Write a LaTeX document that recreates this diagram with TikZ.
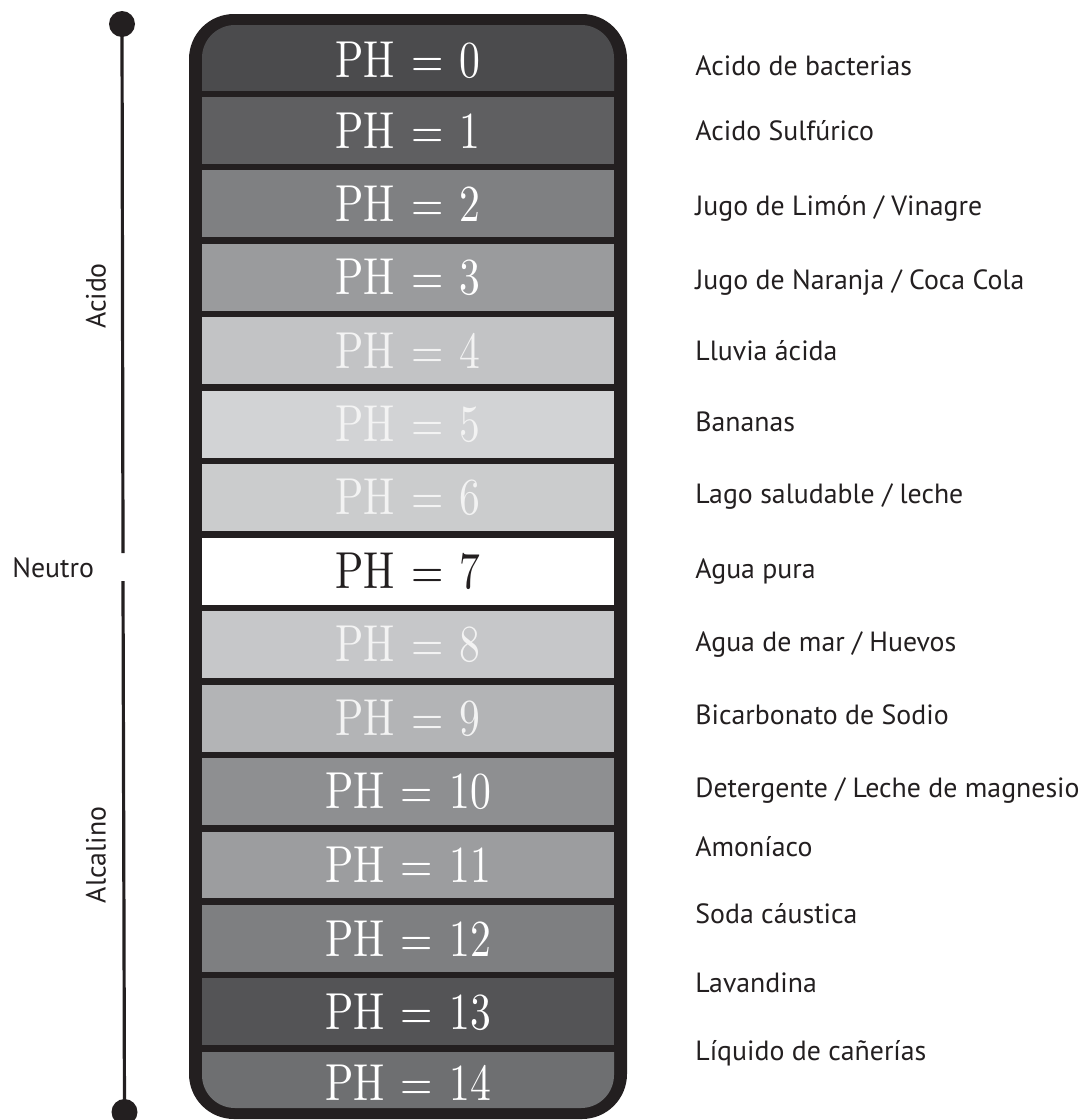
\documentclass[tikz,border=0pt]{standalone}
\usepackage{fontspec}
\usepackage{graphicx}
\newfontfamily\labelfont{PT Sans}
\newfontfamily\phfont{lmroman10-regular.otf}

\definecolor{ink}{HTML}{231F20}
\definecolor{row0}{HTML}{4B4B4D}
\definecolor{row1}{HTML}{5F5F61}
\definecolor{row2}{HTML}{7F8082}
\definecolor{row3}{HTML}{9A9B9D}
\definecolor{row4}{HTML}{C2C3C5}
\definecolor{row5}{HTML}{D2D3D5}
\definecolor{row6}{HTML}{CBCCCD}
\definecolor{row7}{HTML}{FFFFFF}
\definecolor{row8}{HTML}{C6C7C9}
\definecolor{row9}{HTML}{B3B4B6}
\definecolor{row10}{HTML}{8E8F91}
\definecolor{row11}{HTML}{9C9D9F}
\definecolor{row12}{HTML}{7E7F81}
\definecolor{row13}{HTML}{545456}
\definecolor{row14}{HTML}{6E6F71}
\definecolor{softwhite}{HTML}{F3F3F3}

% condensed serif value label inside a scale cell
\newcommand\phval[1]{\scalebox{0.8}[1]{PH\hspace{0.39em}=\hspace{0.39em}#1}}

\begin{document}
\begin{tikzpicture}[x=0.5pt,y=-0.5pt,
  phtext/.style={font=\phfont\fontsize{26}{28}\selectfont, inner sep=0pt, text=white},
  phlight/.style={phtext, text=softwhite},
  phdark/.style={phtext, text=ink},
  lab/.style={font=\labelfont\fontsize{13.9}{16}\selectfont, anchor=base west, inner sep=0pt, text=ink},
  axislab/.style={font=\labelfont\fontsize{13.9}{16}\selectfont, inner sep=0pt, text=ink},
  axis/.style={draw=ink, line width=1.6pt},
  enddot/.style={circle, fill=ink, minimum size=13pt, inner sep=0pt}]
\useasboundingbox (0,0) rectangle (1085,1120);

% outer frame of the scale
\fill[ink, rounded corners=22.5pt] (189,14) rectangle (627,1119);

% top and bottom cells with rounded outer corners
\begin{scope}
  \clip (202,25) rectangle (614,90.5);
  \fill[row0, rounded corners=16.5pt] (202,25) rectangle (614,160);
\end{scope}
\begin{scope}
  \clip (202,1052) rectangle (614,1108);
  \fill[row14, rounded corners=16.5pt] (202,990) rectangle (614,1108);
\end{scope}

% middle cells
\foreach \k in {1,...,13} {
  \pgfmathsetmacro\yb{90.5+73.45*\k}
  \pgfmathsetmacro\yt{\yb-66.95}
  \fill[row\k] (202,\yt) rectangle (614,\yb);
}

% values
\node[phtext]  (ph0)  at (408,60)     {\phval{0}};
\node[phtext]  (ph1)  at (408,130.5)  {\phval{1}};
\node[phtext]  (ph2)  at (408,203.9)  {\phval{2}};
\node[phtext]  (ph3)  at (408,277.4)  {\phval{3}};
\node[phlight] (ph4)  at (408,350.8)  {\phval{4}};
\node[phlight] (ph5)  at (408,424.3)  {\phval{5}};
\node[phlight] (ph6)  at (408,497.7)  {\phval{6}};
\node[phdark]  (ph7)  at (408,571.2)  {\phval{7}};
\node[phlight] (ph8)  at (408,644.6)  {\phval{8}};
\node[phlight] (ph9)  at (408,718.1)  {\phval{9}};
\node[phtext]  (ph10) at (408,791.5)  {\phval{10}};
\node[phtext]  (ph11) at (408,865.0)  {\phval{11}};
\node[phtext]  (ph12) at (408,938.4)  {\phval{12}};
\node[phtext]  (ph13) at (408,1011.9) {\phval{13}};
\node[phtext]  (ph14) at (408,1083)   {\phval{14}};

% examples
\node[lab] (ex0)  at (695,75)   {Acido de bacterias};
\node[lab] (ex1)  at (695,140)  {Acido Sulfúrico};
\node[lab] (ex2)  at (695,215)  {Jugo de Limón / Vinagre};
\node[lab] (ex3)  at (695,289)  {Jugo de Naranja / Coca Cola};
\node[lab] (ex4)  at (695,360)  {Lluvia ácida};
\node[lab] (ex5)  at (695,431)  {Bananas};
\node[lab] (ex6)  at (695,503)  {Lago saludable / leche};
\node[lab] (ex7)  at (695,578)  {Agua pura};
\node[lab] (ex8)  at (695,651)  {Agua de mar / Huevos};
\node[lab] (ex9)  at (695,724)  {Bicarbonato de Sodio};
\node[lab] (ex10) at (695,797)  {Detergente / Leche de magnesio};
\node[lab] (ex11) at (695,856)  {Amoníaco};
\node[lab] (ex12) at (695,923)  {Soda cáustica};
\node[lab] (ex13) at (695,992)  {Lavandina};
\node[lab] (ex14) at (695,1060) {Líquido de cañerías};

% acid / neutral / alkaline axis
\node[enddot] (dtop) at (122,24) {};
\node[enddot] (dbot) at (124.5,1112) {};
\coordinate (gapT) at (123,553);
\coordinate (gapB) at (123,581);
\draw[axis] (dtop.center) -- (gapT);
\draw[axis] (gapB) -- (dbot.center);
\node[lab] (neutro) at (12,577) {Neutro};
\node[axislab, rotate=90] (acido) at (96,296) {Acido};
\node[axislab, rotate=90] (alcalino) at (96,855) {Alcalino};
\end{tikzpicture}
\end{document}
